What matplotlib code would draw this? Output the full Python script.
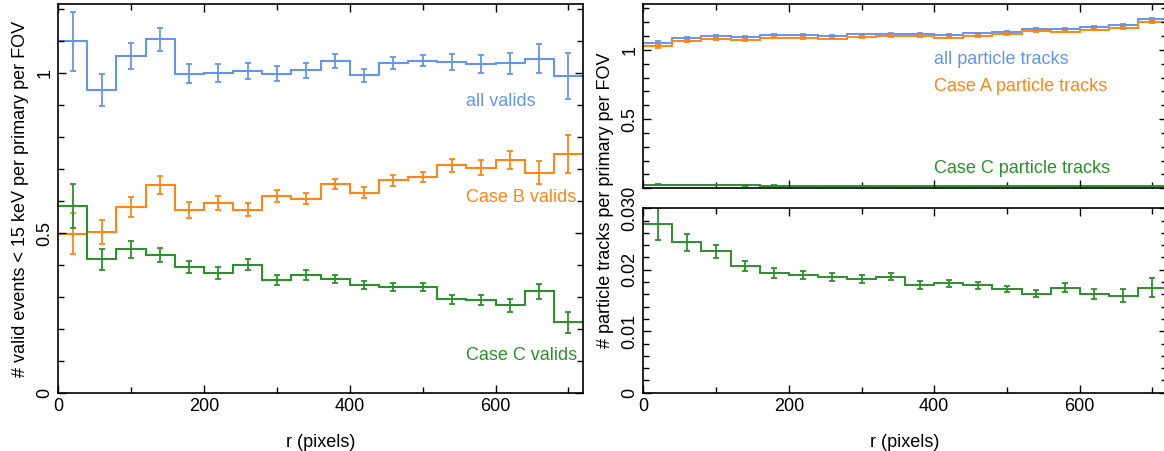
import numpy as np
import matplotlib
matplotlib.use("Agg")
import matplotlib.pyplot as plt
from matplotlib.ticker import MultipleLocator

plt.rcParams['font.family'] = ['Liberation Sans', 'DejaVu Sans']

# ---------------- data ----------------
bin_edges = list(range(0, 760, 40))   # r (pixels), 18 bins of 40

all_valids = [1.100, 0.949, 1.054, 1.106, 0.999, 1.001, 1.007, 0.999, 1.010,
              1.038, 0.994, 1.032, 1.040, 1.036, 1.029, 1.031, 1.046, 0.992]
all_valids_err = [0.093, 0.050, 0.041, 0.036, 0.030, 0.027, 0.026, 0.023, 0.023,
                  0.022, 0.020, 0.018, 0.018, 0.024, 0.029, 0.034, 0.045, 0.071]

caseB_valids = [0.499, 0.504, 0.582, 0.651, 0.573, 0.593, 0.573, 0.616, 0.608,
                0.654, 0.627, 0.666, 0.676, 0.712, 0.705, 0.730, 0.689, 0.748]
caseB_valids_err = [0.063, 0.038, 0.030, 0.028, 0.024, 0.022, 0.020, 0.018, 0.018,
                    0.017, 0.016, 0.017, 0.016, 0.020, 0.023, 0.028, 0.036, 0.060]

caseC_valids = [0.585, 0.418, 0.449, 0.431, 0.393, 0.376, 0.401, 0.353, 0.370,
                0.356, 0.338, 0.332, 0.332, 0.293, 0.292, 0.274, 0.318, 0.221]
caseC_valids_err = [0.068, 0.033, 0.027, 0.022, 0.019, 0.018, 0.017, 0.015, 0.015,
                    0.013, 0.013, 0.013, 0.012, 0.014, 0.016, 0.020, 0.024, 0.033]

all_tracks = [1.053, 1.089, 1.101, 1.092, 1.111, 1.108, 1.103, 1.113, 1.118,
              1.118, 1.108, 1.121, 1.133, 1.152, 1.152, 1.167, 1.179, 1.222]
all_tracks_err = [0.015, 0.008, 0.007, 0.006, 0.006, 0.005, 0.005, 0.005, 0.005,
                  0.005, 0.005, 0.005, 0.005, 0.005, 0.005, 0.006, 0.007, 0.010]

caseA_tracks = [1.029, 1.065, 1.077, 1.070, 1.089, 1.086, 1.082, 1.094, 1.101,
                1.101, 1.089, 1.101, 1.116, 1.135, 1.133, 1.147, 1.159, 1.203]
caseA_tracks_err = [0.015, 0.008, 0.007, 0.006, 0.006, 0.005, 0.005, 0.005, 0.005,
                    0.005, 0.005, 0.005, 0.005, 0.005, 0.005, 0.006, 0.007, 0.010]

caseC_tracks = [0.0274, 0.0245, 0.0230, 0.0206, 0.0195, 0.0191, 0.0188, 0.0185, 0.0189,
                0.0175, 0.0178, 0.0175, 0.0169, 0.0161, 0.0171, 0.0161, 0.0158, 0.0171]
caseC_tracks_err = [0.0026, 0.0014, 0.0011, 0.00085, 0.00076, 0.00068, 0.00065, 0.00062, 0.00057,
                    0.00060, 0.00057, 0.00057, 0.00054, 0.00060, 0.00070, 0.00084, 0.0010, 0.0016]

BLUE = '#6495ed'
ORANGE = '#ff8514'
GREEN = '#2b912b'

W, H = 1164, 451
fig = plt.figure(figsize=(W / 100, H / 100), dpi=100)


def ax_px(l, t, r, b):
    return fig.add_axes([l / W, 1 - b / H, (r - l) / W, (b - t) / H])


edges = np.array(bin_edges, dtype=float)
centers = 0.5 * (edges[:-1] + edges[1:])


def draw(ax, vals, errs, color, lw=1.5):
    ax.stairs(vals, edges, color=color, lw=lw, baseline=None)
    ax.errorbar(centers, vals, yerr=errs, fmt='none', ecolor=color,
                elinewidth=1.3, capsize=2.2, capthick=1.3)


def style(ax, ymajor, yminor):
    ax.set_xlim(0, 720)
    ax.xaxis.set_major_locator(MultipleLocator(200))
    ax.xaxis.set_minor_locator(MultipleLocator(100))
    ax.yaxis.set_major_locator(MultipleLocator(ymajor))
    ax.yaxis.set_minor_locator(MultipleLocator(yminor))
    ax.tick_params(which='both', direction='in', top=True, right=True,
                   labelsize=13, width=1)
    ax.tick_params(which='major', length=6)
    ax.tick_params(which='minor', length=4)
    for s in ax.spines.values():
        s.set_linewidth(1.2)


def ylabels_rot(ax, fmt):
    ax.yaxis.set_major_formatter(plt.FuncFormatter(fmt))
    for lab in ax.get_yticklabels():
        lab.set_rotation(90)
        lab.set_va('center')


# ---------------- left panel ----------------
axL = ax_px(58, 4, 583, 393)
draw(axL, all_valids, all_valids_err, BLUE)
draw(axL, caseB_valids, caseB_valids_err, ORANGE)
draw(axL, caseC_valids, caseC_valids_err, GREEN)
axL.set_ylim(0, 1.217)
style(axL, 0.5, 0.1)
ylabels_rot(axL, lambda v, p: f"{v:g}")
axL.set_xlabel('r (pixels)', fontsize=13, labelpad=14)
axL.set_ylabel('# valid events < 15 keV per primary per FOV', fontsize=13, labelpad=5)
axL.text(560, 0.912, 'all valids', color=BLUE, fontsize=13, va='center')
axL.text(560, 0.613, 'Case B valids', color=ORANGE, fontsize=13, va='center')
axL.text(560, 0.117, 'Case C valids', color=GREEN, fontsize=13, va='center')

# ---------------- right top panel ----------------
axT = ax_px(643.3, 4, 1167, 188.3)
draw(axT, all_tracks, all_tracks_err, BLUE, lw=1.4)
draw(axT, caseA_tracks, caseA_tracks_err, ORANGE, lw=1.4)
draw(axT, caseC_tracks, caseC_tracks_err, GREEN, lw=1.4)
axT.set_ylim(0, 1.332)
style(axT, 0.5, 0.1)
ylabels_rot(axT, lambda v, p: "" if v <= 0 else f"{v:g}")
axT.tick_params(labelbottom=False)
axT.text(400, 0.93, 'all particle tracks', color=BLUE, fontsize=13, va='center')
axT.text(400, 0.735, 'Case A particle tracks', color=ORANGE, fontsize=13, va='center')
axT.text(400, 0.14, 'Case C particle tracks', color=GREEN, fontsize=13, va='center')

# ---------------- right bottom panel ----------------
axB = ax_px(643.3, 208.3, 1167, 392.7)
draw(axB, caseC_tracks, caseC_tracks_err, GREEN, lw=1.4)
axB.set_ylim(0, 0.03)
style(axB, 0.01, 0.002)
ylabels_rot(axB, lambda v, p: "0" if v == 0 else f"{v:.2f}" if abs(v - 0.03) > 1e-9 else "0.030")
axB.set_xlabel('r (pixels)', fontsize=13, labelpad=14)

fig.text(605 / W, 1 - 200 / H, '# particle tracks per primary per FOV', fontsize=13,
         rotation=90, ha='center', va='center')

fig.savefig('out.png', dpi=100)
